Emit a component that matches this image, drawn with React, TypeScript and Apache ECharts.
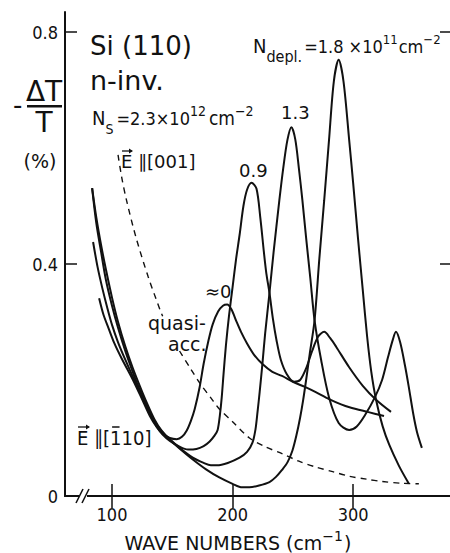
import React, { useEffect, useRef } from "react";
import * as echarts from "echarts";

// ---------- data ----------
const xTickValues = [100, 200, 300];
const yTickValues = [0, 0.4, 0.8];

// N_depl ≈ 0 (quasi-accumulation)
const curveQuasiAcc: [number, number][] = [
  [89.3, 0.341], [93, 0.312], [97, 0.29], [102, 0.263], [108, 0.237], [117.4, 0.2],
  [126, 0.162], [131.4, 0.138], [137, 0.119], [142, 0.107], [148, 0.1], [153.7, 0.098],
  [158, 0.102], [162, 0.113], [165.5, 0.13], [168.6, 0.15], [172.7, 0.188], [176, 0.228],
  [180, 0.268], [183.5, 0.296], [188, 0.318], [192, 0.328], [195.5, 0.33], [199, 0.322],
  [203, 0.302], [207, 0.283], [212, 0.263], [218, 0.243], [225, 0.227], [233, 0.214],
  [241, 0.207], [250, 0.197], [260, 0.188], [269, 0.179], [280, 0.167], [290, 0.158],
  [297, 0.153], [312, 0.145], [325.6, 0.138],
];

// N_depl = 0.9e11
const curve09: [number, number][] = [
  [84.3, 0.438], [88, 0.395], [92, 0.358], [96, 0.325], [100, 0.295], [105, 0.265],
  [111, 0.235], [118.5, 0.2], [126, 0.168], [131.4, 0.142], [137, 0.12], [142, 0.106],
  [148, 0.095], [156, 0.085], [163, 0.08], [170, 0.081], [176, 0.086], [181, 0.094],
  [185, 0.104], [187.6, 0.114], [189.5, 0.14], [191, 0.17], [192.5, 0.21], [194.5, 0.26],
  [197, 0.31], [200, 0.36], [203, 0.41], [205.8, 0.45], [209, 0.5], [212, 0.528],
  [215.7, 0.54], [219.8, 0.53], [223, 0.48], [226, 0.42], [228, 0.384], [230.6, 0.35],
  [233.5, 0.305], [236.4, 0.269], [240, 0.235], [245, 0.21], [251, 0.197], [256, 0.2],
  [261, 0.22], [266, 0.25], [271, 0.275], [276, 0.283], [281, 0.272], [286, 0.257],
  [296.7, 0.222], [308, 0.19], [319, 0.166], [331.4, 0.145],
];

// N_depl = 1.3e11
const curve13: [number, number][] = [
  [83.5, 0.531], [87, 0.47], [91, 0.42], [95, 0.372], [100, 0.328], [105, 0.29],
  [111, 0.25], [117, 0.215], [123, 0.183], [129, 0.155], [135, 0.13], [141, 0.112],
  [148, 0.098], [156, 0.083], [167, 0.066], [176, 0.057], [182, 0.053], [187, 0.053],
  [196, 0.057], [205.8, 0.066], [212, 0.076], [216.5, 0.092], [219, 0.115], [220.7, 0.145],
  [222.5, 0.18], [224.8, 0.229], [227, 0.28], [230.6, 0.35], [234, 0.42], [238.8, 0.51],
  [242, 0.565], [245.5, 0.614], [248.8, 0.636], [252, 0.615], [255, 0.565], [257.9, 0.51],
  [261, 0.445], [264.5, 0.375], [268, 0.303], [273.5, 0.234], [280, 0.17], [288, 0.126],
  [296.7, 0.114], [303, 0.12], [310, 0.14], [318, 0.17], [324, 0.2], [329, 0.24],
  [333, 0.27], [335.5, 0.283], [339, 0.265], [343, 0.225], [346, 0.19], [350, 0.14],
  [353, 0.11], [357, 0.083],
];

// N_depl = 1.8e11
const curve18: [number, number][] = [
  [83.5, 0.531], [87, 0.48], [91, 0.432], [95, 0.39], [100, 0.342], [105, 0.3],
  [111, 0.258], [117, 0.222], [123, 0.19], [129, 0.16], [135, 0.133], [141, 0.113],
  [148, 0.097], [156, 0.082], [167, 0.063], [178, 0.046], [189, 0.032], [200, 0.021],
  [208, 0.015], [214, 0.015], [222, 0.018], [230.6, 0.024], [236, 0.033], [241, 0.045],
  [245.5, 0.058], [249.6, 0.078], [253, 0.105], [256, 0.135], [258.5, 0.165], [261, 0.2],
  [264, 0.245], [268, 0.303], [272, 0.41], [276, 0.51], [280, 0.614], [284, 0.715],
  [288, 0.752], [292, 0.715], [296.7, 0.614], [300, 0.54], [304, 0.445], [308, 0.355],
  [311.6, 0.275], [315, 0.215], [319, 0.166], [324.5, 0.12], [330, 0.088], [338, 0.052],
  [346, 0.022],
];

// E || [001] (dashed), interrupted by the "quasi-acc." label
const curveE001Upper: [number, number][] = [
  [105, 0.588], [108, 0.55], [112, 0.51], [120, 0.445], [130, 0.378], [140, 0.32],
  [142, 0.31],
];
const curveE001Lower: [number, number][] = [
  [156, 0.25], [165, 0.22], [172.7, 0.195], [183.5, 0.165], [189, 0.15],
  [200, 0.128], [214, 0.1], [227, 0.085], [241, 0.073], [255, 0.06], [269, 0.05],
  [283, 0.042], [297, 0.034], [311, 0.029], [324, 0.025], [340, 0.022], [354.5, 0.021],
];

// ---------- helpers ----------
const FONT = '"DejaVu Sans", "Noto Sans", sans-serif';
const FONT_C = '"DejaVu Sans Condensed", "DejaVu Sans", sans-serif';
const INK = "#111";

let ctx: CanvasRenderingContext2D | null = null;
function measure(t: string, s: number, fam: string): number {
  if (!ctx) ctx = document.createElement("canvas").getContext("2d");
  if (!ctx) return t.length * s * 0.6;
  ctx.font = `${s}px ${fam}`;
  return ctx.measureText(t).width;
}

type Piece = { t: string; s: number; dy?: number; gap?: number };

function textEl(t: string, x: number, baseline: number, s: number, fam = FONT, align = "left"): any {
  const y = baseline - 0.36 * s;
  const style: any = {
    text: t, x: 0, y: 0, fill: INK, fontSize: s, fontFamily: fam,
    textAlign: align, textVerticalAlign: "middle", align, verticalAlign: "middle",
  };
  return { type: "text", x, y, z: 100, style };
}

function line(x: number, baseline: number, pieces: Piece[], fam = FONT): { els: any[]; xs: number[] } {
  let cx = x;
  const els: any[] = [];
  const xs: number[] = [];
  for (const p of pieces) {
    cx += p.gap || 0;
    xs.push(cx);
    els.push(textEl(p.t, cx, baseline + (p.dy || 0), p.s, fam, "left"));
    cx += measure(p.t, p.s, fam);
  }
  return { els, xs };
}

function arrowOver(x0: number, x1: number, y: number): any[] {
  return [
    { type: "line", z: 100, shape: { x1: x0, y1: y, x2: x1, y2: y }, style: { stroke: INK, lineWidth: 1.3 } },
    { type: "polygon", z: 100, shape: { points: [[x1 - 3, y - 2.5], [x1 + 1, y], [x1 - 3, y + 2.5]] }, style: { fill: INK } },
  ];
}

// ---------- component ----------
export default function App() {
  const ref = useRef<HTMLDivElement>(null);

  useEffect(() => {
    const chart = echarts.init(ref.current!, null, { renderer: "svg" });

    const baseLine = {
      type: "line",
      symbol: "none",
      showSymbol: false,
      smooth: 0.3,
      silent: true,
      lineStyle: { color: INK, width: 2 },
      z: 3,
    };
    const dashLine = { ...baseLine, lineStyle: { color: INK, width: 1.4, type: [6, 5] }, z: 2 };

    const g: any[] = [];

    // Si (110) / n-inv.
    g.push(textEl("Si (110)", 90, 55, 26));
    g.push(textEl("n-inv.", 90, 90, 27));

    // N_S = 2.3 x 10^12 cm^-2
    g.push(...line(92, 125, [
      { t: "N", s: 20 },
      { t: "S", s: 14, dy: 9 },
      { t: "=2.3×10", s: 18, gap: 3 },
      { t: "12", s: 14, dy: -9 },
      { t: "cm", s: 19, gap: 3 },
      { t: "−2", s: 14, dy: -9 },
    ], FONT_C).els);

    // N_depl = 1.8 x 10^11 cm^-2
    g.push(...line(253, 53, [
      { t: "N", s: 20 },
      { t: "depl.", s: 16, dy: 9 },
      { t: "=1.8 ×10", s: 18, gap: 2 },
      { t: "11", s: 13, dy: -9 },
      { t: "cm", s: 18, gap: 1 },
      { t: "−2", s: 13, dy: -9 },
    ], FONT_C).els);

    // curve labels
    g.push(textEl("1.3", 281, 119, 18));
    g.push(textEl("0.9", 239, 177, 18));
    g.push(textEl("≈0", 205, 298, 18));
    g.push(textEl("quasi-", 148, 330, 19));
    g.push(textEl("acc.", 168, 351, 19));

    // E || [001]
    const e1 = line(121, 168, [{ t: "E", s: 18 }, { t: " ∥[001]", s: 18 }]);
    g.push(...e1.els);
    g.push(...arrowOver(122, 132, 151));

    // E || [-110]
    const e2 = line(77, 445, [{ t: "E", s: 20 }, { t: " ∥[", s: 20 }, { t: "1", s: 20 }, { t: "10]", s: 20 }], FONT_C);
    g.push(...e2.els);
    g.push(...arrowOver(78, 89, 427));
    const oneX = e2.xs[2];
    const oneW = measure("1", 20, FONT_C);
    g.push({ type: "line", z: 101, shape: { x1: oneX + 2, y1: 427, x2: oneX + oneW - 2, y2: 427 }, style: { stroke: INK, lineWidth: 1.5 } });

    // y-axis label  -ΔT/T (%)
    g.push(textEl("-", 13, 114, 26));
    g.push(textEl("ΔT", 44, 102, 28, FONT, "center"));
    g.push({ type: "rect", z: 100, shape: { x: 27, y: 105, width: 35, height: 2.5 }, style: { fill: INK } });
    g.push(textEl("T", 44, 133, 28, FONT, "center"));
    g.push(textEl("(%)", 40, 168, 19, FONT, "center"));

    // x-axis title
    const title = [
      { t: "WAVE NUMBERS (cm", s: 19 },
      { t: "−1", s: 14, dy: -9 },
      { t: ")", s: 19, gap: 1 },
    ];
    const tw = title.reduce((a, p) => a + measure(p.t, p.s, FONT) + (p.gap || 0), 0);
    g.push(...line(238 - tw / 2, 550, title).els);

    // axis break marks
    g.push({ type: "rect", z: 100, shape: { x: 79, y: 493, width: 8, height: 6 }, style: { fill: "#fff" } });
    g.push({ type: "line", z: 101, shape: { x1: 76, y1: 503, x2: 83, y2: 489 }, style: { stroke: INK, lineWidth: 1.6 } });
    g.push({ type: "line", z: 101, shape: { x1: 82, y1: 503, x2: 89, y2: 489 }, style: { stroke: INK, lineWidth: 1.6 } });

    const axisCommon = {
      axisLine: { show: true, lineStyle: { color: INK, width: 2 } },
      splitLine: { show: false },
    };

    chart.setOption({
      animation: false,
      backgroundColor: "#fff",
      grid: { left: 65, top: 12, width: 387, height: 484, containLabel: false, outerBoundsMode: "none" },
      xAxis: [
        {
          type: "value", min: 61, max: 382, position: "bottom",
          ...axisCommon,
          axisTick: { show: true, inside: true, length: 12, customValues: xTickValues, lineStyle: { color: INK, width: 1.5 } },
          axisLabel: {
            show: true, customValues: xTickValues, color: INK, fontSize: 18, fontFamily: FONT_C, margin: 9,
            formatter: (v: number) => String(v),
          },
        },
        {
          type: "value", min: 61, max: 382, position: "top",
          ...axisCommon,
          axisLine: { show: true, lineStyle: { color: INK, width: 1.5 } },
          axisTick: { show: true, inside: true, length: 12, customValues: xTickValues, lineStyle: { color: INK, width: 1.5 } },
          axisLabel: { show: false },
        },
      ],
      yAxis: [
        {
          type: "value", min: 0, max: 0.8345, position: "left",
          ...axisCommon,
          axisTick: { show: true, inside: true, length: 12, customValues: [0.4, 0.8], lineStyle: { color: INK, width: 1.5 } },
          axisLabel: {
            show: true, customValues: yTickValues, color: INK, fontSize: 18, fontFamily: FONT_C, margin: 7,
            formatter: (v: number) => (v === 0 ? "0" : v.toFixed(1)),
          },
        },
        {
          type: "value", min: 0, max: 0.8345, position: "right",
          ...axisCommon,
          axisTick: { show: true, inside: true, length: 12, customValues: [0.4, 0.8], lineStyle: { color: INK, width: 1.5 } },
          axisLabel: { show: false },
        },
      ],
      series: [
        { ...baseLine, name: "≈0", data: curveQuasiAcc },
        { ...baseLine, name: "0.9", data: curve09 },
        { ...baseLine, name: "1.3", data: curve13 },
        { ...baseLine, name: "1.8", data: curve18 },
        { ...dashLine, name: "E||[001] a", data: curveE001Upper },
        { ...dashLine, name: "E||[001] b", data: curveE001Lower },
      ],
      graphic: { elements: g },
    });

    return () => chart.dispose();
  }, []);

  return <div ref={ref} style={{ position: "absolute", left: 0, top: 0, width: 450, height: 553 }} />;
}
